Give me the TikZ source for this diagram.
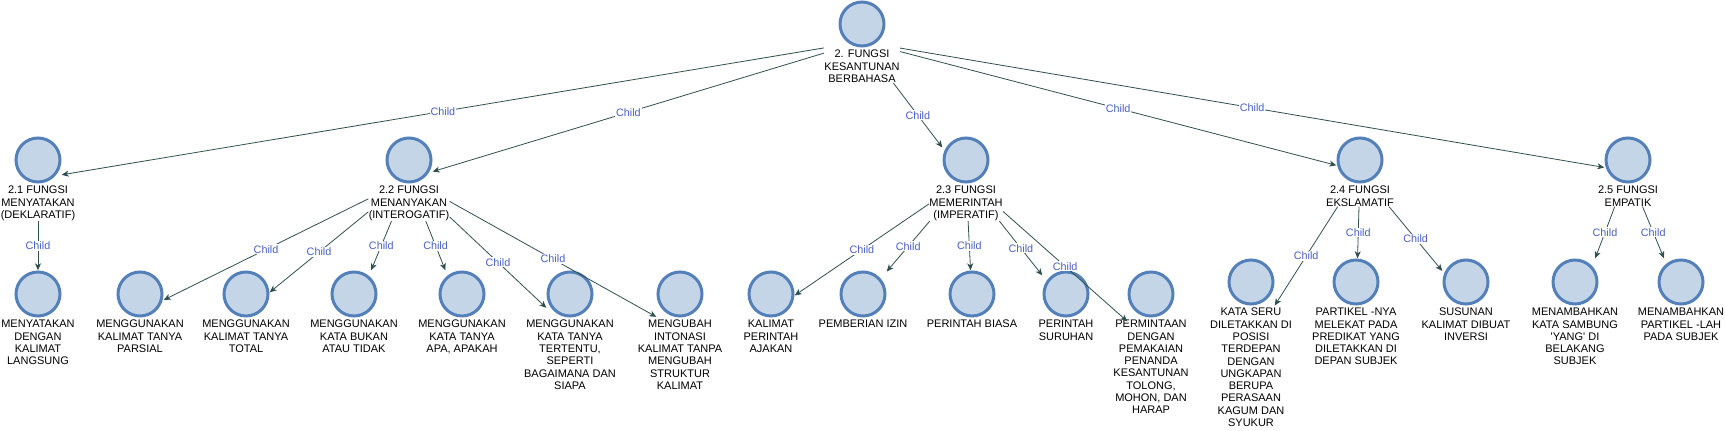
\documentclass[tikz,border=0pt]{standalone}
\usepackage{fontspec}
\setmainfont{Liberation Sans}
\usepackage{tikz}
\usetikzlibrary{arrows.meta,positioning,fit}

\definecolor{ballfill}{HTML}{C4D5E8}
\definecolor{ballline}{HTML}{5480BA}
\definecolor{edgecol}{HTML}{2F4F4F}
\definecolor{childcol}{HTML}{4A60C4}

\begin{document}
\begin{tikzpicture}[x=1pt,y=-1pt,->,>={Stealth[length=7pt,width=6pt,inset=2pt]},
    ball/.style={circle,draw=ballline,fill=ballfill,line width=3pt,minimum size=44pt,inner sep=0pt},
    txt/.style={align=center,inner sep=0pt,font=\fontsize{11}{12.3}\selectfont},
    hull/.style={inner sep=0pt},
    every edge/.style={draw=edgecol,line width=0.8pt},
    childlbl/.style={fill=white,text=childcol,inner sep=1pt,font=\fontsize{10.8}{12}\selectfont}]
\useasboundingbox (0,0) rectangle (1725,431);

% root
\node[ball] (r) at (862,24) {};
\node[txt,below=2.5pt of r] (tr) {2. FUNGSI\\KESANTUNAN\\BERBAHASA};

% level 1
\node[ball] (f1) at (38,160) {};
\node[txt,below=2.5pt of f1] (tf1) {2.1 FUNGSI\\MENYATAKAN\\(DEKLARATIF)};
\node[ball] (f2) at (409,160) {};
\node[txt,below=2.5pt of f2] (tf2) {2.2 FUNGSI\\MENANYAKAN\\(INTEROGATIF)};
\node[ball] (f3) at (966,160) {};
\node[txt,below=2.5pt of f3] (tf3) {2.3 FUNGSI\\MEMERINTAH\\(IMPERATIF)};
\node[ball] (f4) at (1360,160) {};
\node[txt,below=2.5pt of f4] (tf4) {2.4 FUNGSI\\EKSLAMATIF};
\node[ball] (f5) at (1628,160) {};
\node[txt,below=2.5pt of f5] (tf5) {2.5 FUNGSI\\EMPATIK};

% level 2
\node[ball] (a1) at (38,294) {};
\node[txt,below=2.5pt of a1] (ta1) {MENYATAKAN\\DENGAN\\KALIMAT\\LANGSUNG};

\node[ball] (b1) at (140,294) {};
\node[txt,below=2.5pt of b1] (tb1) {MENGGUNAKAN\\KALIMAT TANYA\\PARSIAL};
\node[ball] (b2) at (246,294) {};
\node[txt,below=2.5pt of b2] (tb2) {MENGGUNAKAN\\KALIMAT TANYA\\TOTAL};
\node[ball] (b3) at (354,294) {};
\node[txt,below=2.5pt of b3] (tb3) {MENGGUNAKAN\\KATA BUKAN\\ATAU TIDAK};
\node[ball] (b4) at (462,294) {};
\node[txt,below=2.5pt of b4] (tb4) {MENGGUNAKAN\\KATA TANYA\\APA, APAKAH};
\node[ball] (b5) at (570,294) {};
\node[txt,below=2.5pt of b5] (tb5) {MENGGUNAKAN\\KATA TANYA\\TERTENTU,\\SEPERTI\\BAGAIMANA DAN\\SIAPA};
\node[ball] (b6) at (680,294) {};
\node[txt,below=2.5pt of b6] (tb6) {MENGUBAH\\INTONASI\\KALIMAT TANPA\\MENGUBAH\\STRUKTUR\\KALIMAT};

\node[ball] (c1) at (771,294) {};
\node[txt,below=2.5pt of c1] (tc1) {KALIMAT\\PERINTAH\\AJAKAN};
\node[ball] (c2) at (863,294) {};
\node[txt,below=2.5pt of c2] (tc2) {PEMBERIAN IZIN};
\node[ball] (c3) at (972,294) {};
\node[txt,below=2.5pt of c3] (tc3) {PERINTAH BIASA};
\node[ball] (c4) at (1066,294) {};
\node[txt,below=2.5pt of c4] (tc4) {PERINTAH\\SURUHAN};
\node[ball] (c5) at (1151,294) {};
\node[txt,below=2.5pt of c5] (tc5) {PERMINTAAN\\DENGAN\\PEMAKAIAN\\PENANDA\\KESANTUNAN\\TOLONG,\\MOHON, DAN\\HARAP};

\node[ball] (d1) at (1251,282) {};
\node[txt,below=2.5pt of d1] (td1) {KATA SERU\\DILETAKKAN DI\\POSISI\\TERDEPAN\\DENGAN\\UNGKAPAN\\BERUPA\\PERASAAN\\KAGUM DAN\\SYUKUR};
\node[ball] (d2) at (1356,282) {};
\node[txt,below=2.5pt of d2] (td2) {PARTIKEL -NYA\\MELEKAT PADA\\PREDIKAT YANG\\DILETAKKAN DI\\DEPAN SUBJEK};
\node[ball] (d3) at (1466,282) {};
\node[txt,below=2.5pt of d3] (td3) {SUSUNAN\\KALIMAT DIBUAT\\INVERSI};

\node[ball] (e1) at (1575,282) {};
\node[txt,below=2.5pt of e1] (te1) {MENAMBAHKAN\\KATA SAMBUNG\\\textquotesingle YANG\textquotesingle{} DI\\BELAKANG\\SUBJEK};
\node[ball] (e2) at (1681,282) {};
\node[txt,below=2.5pt of e2] (te2) {MENAMBAHKAN\\PARTIKEL -LAH\\PADA SUBJEK};

% hulls: whole item (h) and circle column (k)
\foreach \n in {r,f1,f2,f3,f4,f5,a1,b1,b2,b3,b4,b5,b6,c1,c2,c3,c4,c5,d1,d2,d3,e1,e2}{
    \node[hull,fit=(\n)(t\n)] (h\n) {};
    \node[hull,fit=(\n)(t\n.south)] (k\n) {};
}

\path   (hr) edge node[childlbl] {Child} (kf1)
        edge node[childlbl] {Child} (kf2)
        edge node[childlbl] {Child} (kf3)
        edge node[childlbl] {Child} (kf4)
        edge node[childlbl] {Child} (kf5);
\path   (hf1) edge node[childlbl] {Child} (ka1);
\path   (hf2) edge node[childlbl] {Child} (kb1)
        edge node[childlbl] {Child} (kb2)
        edge node[childlbl] {Child} (kb3)
        edge node[childlbl] {Child} (kb4)
        edge node[childlbl] {Child} (kb5)
        edge node[childlbl] {Child} (kb6);
\path   (hf3) edge node[childlbl] {Child} (kc1)
        edge node[childlbl] {Child} (kc2)
        edge node[childlbl] {Child} (kc3)
        edge node[childlbl] {Child} (kc4)
        edge node[childlbl] {Child} (kc5);
\path   (hf4) edge node[childlbl] {Child} (kd1)
        edge node[childlbl] {Child} (kd2)
        edge node[childlbl] {Child} (kd3);
\path   (hf5) edge node[childlbl] {Child} (ke1)
        edge node[childlbl] {Child} (ke2);
\end{tikzpicture}
\end{document}
